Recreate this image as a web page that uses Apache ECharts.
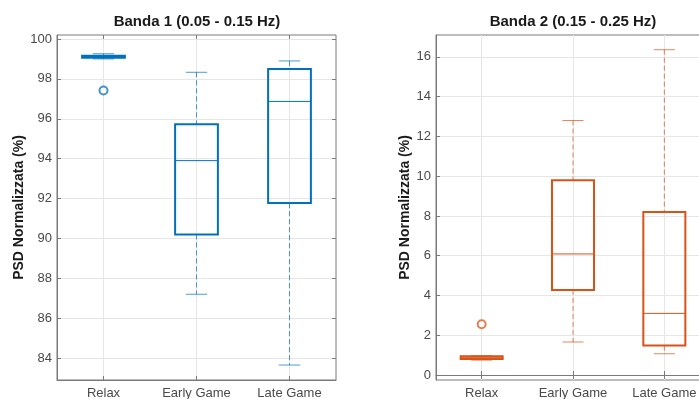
<!DOCTYPE html>
<html>
<head>
<meta charset="utf-8">
<script src="https://cdn.jsdelivr.net/npm/echarts@6/dist/echarts.min.js"></script>
<style>
  html, body { margin: 0; padding: 0; background: #fff; }
  #chart { width: 699px; height: 399px; }
</style>
</head>
<body>
<div id="chart"></div>
<script>
// groups on the x axis
const categories = ["Relax", "Early Game", "Late Game"];

// [lower whisker, q1, median, q3, upper whisker]
const band1Stats = [
  [99.0, 99.06, 99.1, 99.16, 99.26],
  [87.2, 90.2, 93.9, 95.73, 98.33],
  [83.65, 91.77, 96.87, 98.5, 98.9]
];
const band1Outliers = [[1, 97.42]];

const band2Stats = [
  [0.75, 0.81, 0.87, 0.95, 0.97],
  [1.66, 4.28, 6.09, 9.8, 12.8],
  [1.07, 1.48, 3.1, 8.2, 16.36]
];
const band2Outliers = [[1, 2.55]];

const band1Ticks = [84, 86, 88, 90, 92, 94, 96, 98, 100];
const band2Ticks = [0, 2, 4, 6, 8, 10, 12, 14, 16];

const blue = "#0072BD";
const orange = "#D95319";
const axisColor = "#7a7a7a";
const labelColor = "#4a4a4a";
const gridColor = "#e6e6e6";
const font = "'Liberation Sans', Arial, sans-serif";

var chart = echarts.init(document.getElementById("chart"));

// MATLAB-style box: thick box, thin median, dashed whiskers with caps
function boxRenderer(color) {
  return function (params, api) {
    var x = api.value(0);
    var lo = api.coord([x, api.value(1)]);
    var q1 = api.coord([x, api.value(2)]);
    var md = api.coord([x, api.value(3)]);
    var q3 = api.coord([x, api.value(4)]);
    var hi = api.coord([x, api.value(5)]);
    var w = api.size([0.46, 0])[0];
    var c = lo[0];
    var thin = { stroke: color, lineWidth: 1, opacity: 0.7 };
    return {
      type: "group",
      children: [
        { type: "line", shape: { x1: c, y1: hi[1], x2: c, y2: q3[1] },
          style: Object.assign({ lineDash: [5, 3] }, thin) },
        { type: "line", shape: { x1: c, y1: q1[1], x2: c, y2: lo[1] },
          style: Object.assign({ lineDash: [5, 3] }, thin) },
        { type: "line", shape: { x1: c - w / 4, y1: hi[1], x2: c + w / 4, y2: hi[1] }, style: thin },
        { type: "line", shape: { x1: c - w / 4, y1: lo[1], x2: c + w / 4, y2: lo[1] }, style: thin },
        { type: "rect", shape: { x: c - w / 2, y: q3[1], width: w, height: q1[1] - q3[1] },
          style: { fill: "none", stroke: color, lineWidth: 2 } },
        { type: "line", shape: { x1: c - w / 2, y1: md[1], x2: c + w / 2, y2: md[1] },
          style: { stroke: color, lineWidth: 1 } }
      ]
    };
  };
}

function xAxisFor(gridIndex, position) {
  var main = position === "bottom";
  return {
    type: "value",
    gridIndex: gridIndex,
    position: position,
    min: 0.5,
    max: 3.5,
    axisLine: { show: main, lineStyle: { color: axisColor } },
    axisTick: { show: true, inside: true, length: 4, customValues: [1, 2, 3], lineStyle: { color: axisColor } },
    axisLabel: {
      show: main,
      customValues: [1, 2, 3],
      color: labelColor,
      fontFamily: font,
      fontSize: 13,
      margin: 7,
      formatter: function (v) { return categories[Math.round(v) - 1]; }
    },
    splitLine: { show: main, lineStyle: { color: gridColor } }
  };
}

function yAxisFor(gridIndex, position, min, max, ticks, nameGap) {
  var main = position === "left";
  return {
    type: "value",
    gridIndex: gridIndex,
    position: position,
    min: min,
    max: max,
    name: main ? "PSD Normalizzata (%)" : "",
    nameLocation: "middle",
    nameGap: nameGap,
    nameTextStyle: { color: "#1a1a1a", fontFamily: font, fontSize: 14, fontWeight: "bold" },
    axisLine: { show: main, lineStyle: { color: axisColor } },
    axisTick: { show: true, inside: true, length: 4, customValues: ticks, lineStyle: { color: axisColor } },
    axisLabel: { show: main, customValues: ticks, color: labelColor, fontFamily: font, fontSize: 13, margin: 5 },
    splitLine: { show: main, lineStyle: { color: gridColor } }
  };
}

var option = {
  animation: false,
  backgroundColor: "#fff",
  title: [
    { text: "Banda 1 (0.05 - 0.15 Hz)", left: 197, top: 14, textAlign: "center", padding: 0,
      textStyle: { fontFamily: font, fontSize: 15, fontWeight: "bold", color: "#1a1a1a" } },
    { text: "Banda 2 (0.15 - 0.25 Hz)", left: 573, top: 14, textAlign: "center", padding: 0,
      textStyle: { fontFamily: font, fontSize: 15, fontWeight: "bold", color: "#1a1a1a" } }
  ],
  grid: [
    { left: 57, width: 279, top: 35, bottom: 19, outerBoundsMode: "none",
      show: true, borderColor: axisColor, borderWidth: 1 },
    { left: 436, width: 274, top: 35, bottom: 19, outerBoundsMode: "none",
      show: true, borderColor: axisColor, borderWidth: 1 }
  ],
  xAxis: [xAxisFor(0, "bottom"), xAxisFor(0, "top"), xAxisFor(1, "bottom"), xAxisFor(1, "top")],
  yAxis: [
    yAxisFor(0, "left", 82.9, 100.2, band1Ticks, 31),
    yAxisFor(0, "right", 82.9, 100.2, band1Ticks, 0),
    yAxisFor(1, "left", -0.25, 17.1, band2Ticks, 24),
    yAxisFor(1, "right", -0.25, 17.1, band2Ticks, 0)
  ],
  series: [
    {
      type: "custom",
      xAxisIndex: 0,
      yAxisIndex: 0,
      renderItem: boxRenderer(blue),
      encode: { x: 0, y: [1, 2, 3, 4, 5] },
      data: band1Stats.map(function (s, i) { return [i + 1].concat(s); })
    },
    {
      type: "scatter",
      xAxisIndex: 0,
      yAxisIndex: 0,
      symbol: "emptyCircle",
      symbolSize: 8,
      itemStyle: { color: blue, borderColor: blue, borderWidth: 1, opacity: 0.75 },
      data: band1Outliers
    },
    {
      type: "custom",
      xAxisIndex: 2,
      yAxisIndex: 2,
      renderItem: boxRenderer(orange),
      encode: { x: 0, y: [1, 2, 3, 4, 5] },
      data: band2Stats.map(function (s, i) { return [i + 1].concat(s); })
    },
    {
      type: "scatter",
      xAxisIndex: 2,
      yAxisIndex: 2,
      symbol: "emptyCircle",
      symbolSize: 8,
      itemStyle: { color: orange, borderColor: orange, borderWidth: 1, opacity: 0.75 },
      data: band2Outliers
    }
  ]
};

chart.setOption(option);
</script>
</body>
</html>
